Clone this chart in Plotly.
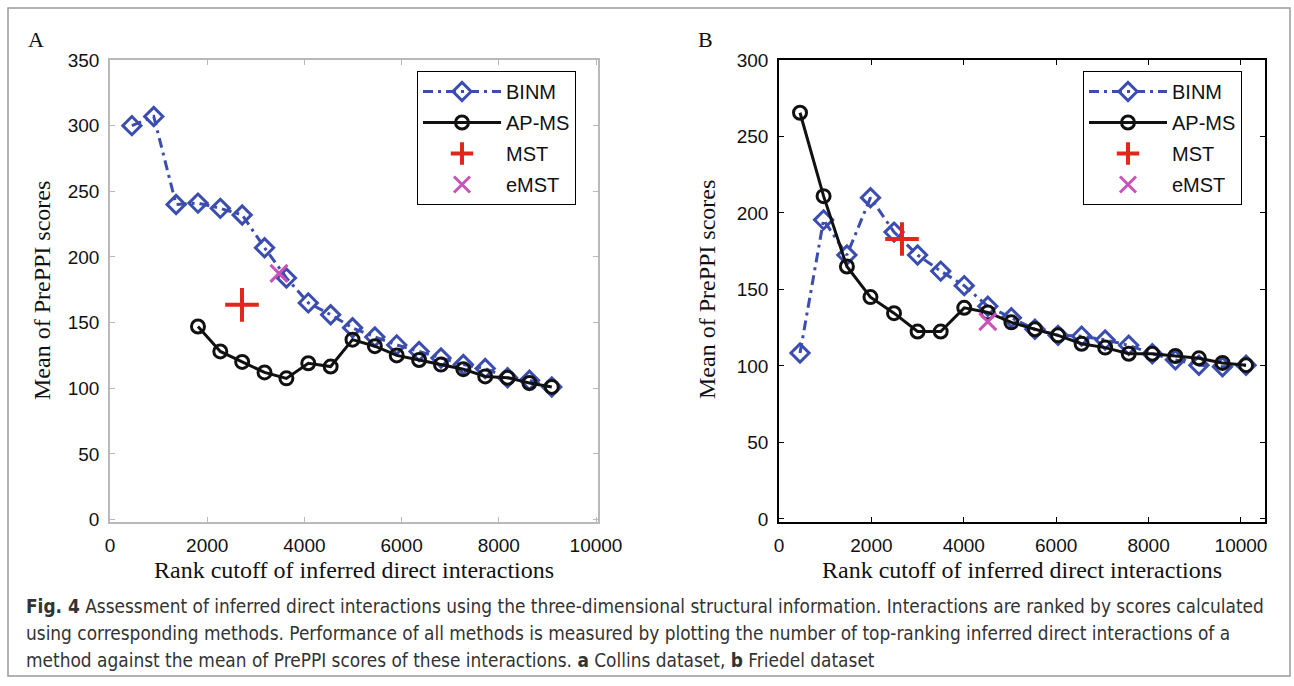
import plotly.graph_objects as go

# ---------------- data ----------------
# Panel A (Collins dataset)
a_binm_x = [450, 900, 1360, 1810, 2270, 2720, 3180, 3630, 4080, 4540,
            4990, 5450, 5900, 6360, 6810, 7270, 7720, 8180, 8630, 9090]
a_binm_y = [300, 307, 240, 241, 237, 232, 207, 184, 165, 156,
            146, 139, 133, 128, 123, 118, 115, 108, 106, 101]
a_apms_x = [1810, 2270, 2720, 3180, 3630, 4080, 4540, 4990, 5450, 5900,
            6360, 6810, 7270, 7720, 8180, 8630, 9090]
a_apms_y = [147, 128, 120, 112, 107.5, 119, 116.5, 137, 132, 125,
            121.5, 118, 114.5, 109, 108, 104, 101]
a_mst_x, a_mst_y = [2716], [163.5]
a_emst_x, a_emst_y = [3477], [187.5]

# Panel B (Friedel dataset)
b_x = [455, 965, 1470, 1980, 2490, 3000, 3500, 4010, 4520, 5030,
       5540, 6040, 6550, 7060, 7570, 8080, 8580, 9090, 9600, 10110]
b_binm_y = [108.5, 195.5, 172.5, 210, 187.5, 172.5, 162, 152.5, 139, 131.5,
            124, 120, 119.5, 117, 113.5, 108, 104, 100.5, 99.5, 100.5]
b_apms_y = [265.5, 211, 165, 145, 134.5, 122.5, 122.5, 138, 135, 128.5,
            124, 120, 114.5, 112, 108, 108, 106.5, 105, 102, 100.5]
b_mst_x, b_mst_y = [2662], [183]
b_emst_x, b_emst_y = [4520], [129]

x_ticks = [0, 2000, 4000, 6000, 8000, 10000]
a_y_ticks = [0, 50, 100, 150, 200, 250, 300, 350]
b_y_ticks = [0, 50, 100, 150, 200, 250, 300]

x_title = "Rank cutoff of inferred direct interactions"
y_title = "Mean of PrePPI scores"
caption_lines = [
    "<b>Fig. 4</b> Assessment of inferred direct interactions using the three-dimensional structural information. Interactions are ranked by scores calculated",
    "using corresponding methods. Performance of all methods is measured by plotting the number of top-ranking inferred direct interactions of a",
    "method against the mean of PrePPI scores of these interactions. <b>a</b> Collins dataset, <b>b</b> Friedel dataset",
]

# ---------------- styles ----------------
W, H = 1294, 686
BLUE = "#3c4db0"
RED = "#e2261c"
MAGENTA = "#c953b8"
SANS = "Liberation Sans, Arial, sans-serif"
SERIF = "Liberation Serif, Times New Roman, serif"
CAP_FONT = "DejaVu Sans Condensed, Liberation Sans Narrow, sans-serif"


def px(v):
    return v / W


def py(v):
    return 1 - v / H


fig = go.Figure()


def add_panel(xref, yref, legend, binm_x, binm_y, apms_x, apms_y, mst, emst):
    sfx = legend
    fig.add_trace(go.Scatter(
        x=binm_x, y=binm_y, mode="lines+markers", name="BINM",
        xaxis=xref, yaxis=yref, legend=legend, legendgroup="binm" + sfx,
        line=dict(color=BLUE, width=3, dash="10px,5px,3px,5px"),
        marker=dict(symbol="diamond-open", size=14, color=BLUE,
                    line=dict(width=3, color=BLUE)),
    ))
    fig.add_trace(go.Scatter(
        x=apms_x, y=apms_y, mode="lines+markers", name="AP-MS",
        xaxis=xref, yaxis=yref, legend=legend, legendgroup="apms" + sfx,
        line=dict(color="#111111", width=3),
        marker=dict(symbol="circle-open", size=13, color="#111111",
                    line=dict(width=3, color="#111111")),
    ))
    fig.add_trace(go.Scatter(
        x=mst[0], y=mst[1], mode="markers", name="MST",
        xaxis=xref, yaxis=yref, legend=legend, legendgroup="mst" + sfx,
        marker=dict(symbol="cross-thin", size=24, color=RED,
                    line=dict(width=4, color=RED)),
    ))
    fig.add_trace(go.Scatter(
        x=emst[0], y=emst[1], mode="markers", name="eMST",
        xaxis=xref, yaxis=yref, legend=legend, legendgroup="emst" + sfx,
        marker=dict(symbol="x-thin", size=17, color=MAGENTA,
                    line=dict(width=3, color=MAGENTA)),
    ))


add_panel("x", "y", "legend", a_binm_x, a_binm_y, a_apms_x, a_apms_y,
          (a_mst_x, a_mst_y), (a_emst_x, a_emst_y))
add_panel("x2", "y2", "legend2", b_x, b_binm_y, b_x, b_apms_y,
          (b_mst_x, b_mst_y), (b_emst_x, b_emst_y))


def axis(domain, rng, ticks, color, anchor):
    return dict(
        domain=domain, range=rng, tickvals=ticks, ticktext=[str(t) for t in ticks],
        showgrid=False, zeroline=False, showline=True, linecolor=color, linewidth=1.5,
        mirror="ticks", ticks="inside", ticklen=5, tickcolor=color, tickwidth=1,
        tickfont=dict(family=SANS, size=19, color="#111111"), anchor=anchor,
        ticklabelstandoff=5,
    )


y_dom = [py(522), py(60)]
GRAY = "#b9b9b9"
legend_common = dict(
    bgcolor="white", bordercolor="black", borderwidth=1,
    font=dict(family=SANS, size=20, color="#111111"),
    xanchor="left", yanchor="top", traceorder="grouped",
    tracegroupgap=2, itemwidth=78, itemclick=False,
)

fig.update_layout(
    width=W, height=H, margin=dict(l=0, r=0, t=0, b=0, autoexpand=False),
    paper_bgcolor="white", plot_bgcolor="white", showlegend=True,
    xaxis=axis([px(110), px(598)], [0, 10041], x_ticks, GRAY, "y"),
    yaxis=axis(y_dom, [-1.9, 350], a_y_ticks, GRAY, "x"),
    xaxis2=axis([px(779), px(1265)], [0, 10520], x_ticks, "#000000", "y2"),
    yaxis2=axis(y_dom, [-2, 300], b_y_ticks, "#000000", "x2"),
    legend=dict(x=px(417), y=py(71), **legend_common),
    legend2=dict(x=px(1083), y=py(71), **legend_common),
)

annotations = [
    dict(x=px(36), y=py(40), text="A", font=dict(family=SERIF, size=22, color="#111")),
    dict(x=px(705), y=py(40), text="B", font=dict(family=SERIF, size=22, color="#111")),
    dict(x=px(354), y=py(570), text=x_title, font=dict(family=SERIF, size=24, color="#111")),
    dict(x=px(1022), y=py(570), text=x_title, font=dict(family=SERIF, size=24, color="#111")),
    dict(x=px(42), y=py(291), text=y_title, textangle=-90,
         font=dict(family=SERIF, size=24, color="#111")),
    dict(x=px(707), y=py(290), text=y_title, textangle=-90,
         font=dict(family=SERIF, size=24, color="#111")),
]
for i, line in enumerate(caption_lines):
    annotations.append(dict(
        x=px(24), y=py(606 + 27 * i), text=line, xanchor="left",
        font=dict(family=CAP_FONT, size=18.9, color="#333333"),
    ))
for a in annotations:
    a.setdefault("xanchor", "center")
    a.update(xref="paper", yref="paper", yanchor="middle", showarrow=False)
fig.update_layout(annotations=annotations)

fig.add_shape(type="rect", xref="paper", yref="paper",
              x0=px(8), x1=px(1290), y0=py(676), y1=py(8),
              line=dict(color="#9a9a9a", width=1.5), layer="below")

fig.write_html(
    "out.html",
    config={"displayModeBar": False},
    post_script="document.body.style.margin='0';document.body.style.padding='0';"
                "document.documentElement.style.overflow='hidden';",
)
